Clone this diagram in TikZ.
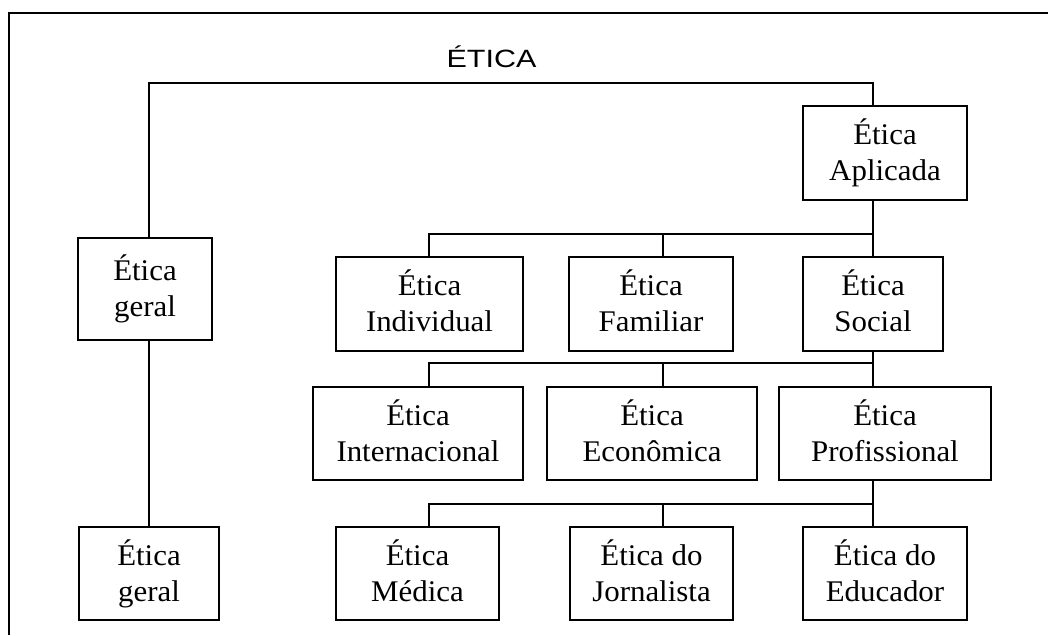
\documentclass[tikz,border=0pt]{standalone}
\usepackage{fontspec}
\setmainfont{Liberation Serif}[FakeStretch=1.03]
\newfontfamily\titlefont{Liberation Sans}[FakeStretch=1.22]
\begin{document}
\begin{tikzpicture}[x=1pt,y=-1pt,
  ebox/.style={draw,line width=1.5pt,inner sep=0pt,align=center,
    font=\fontsize{30}{36}\selectfont,text height=61pt,text depth=6pt},
  conn/.style={line width=1.5pt}]
\useasboundingbox (0,0) rectangle (1048,635);
% frame
\coordinate (fbl) at (9,635);
\coordinate (ftl) at (9,13);
\coordinate (ftr) at (1048,13);
\draw[line width=1.7pt] (fbl) -- (ftl) -- (ftr);
% title
\node[anchor=base,inner sep=0pt,font=\titlefont\fontsize{25}{29}\selectfont] (title) at (491.5,67.5) {ÉTICA};
% boxes
\node[ebox,minimum width=164pt,minimum height=94pt] (apl) at (885,153) {Ética\\Aplicada};
\node[ebox,minimum width=134pt,minimum height=102pt] (ger1) at (145,289) {Ética\\geral};
\node[ebox,minimum width=187pt,minimum height=94pt] (ind) at (429.5,304) {Ética\\Individual};
\node[ebox,minimum width=164pt,minimum height=94pt] (fam) at (651,304) {Ética\\Familiar};
\node[ebox,minimum width=140pt,minimum height=94pt] (soc) at (873,304) {Ética\\Social};
\node[ebox,minimum width=210pt,minimum height=93pt] (int) at (418,433.5) {Ética\\Internacional};
\node[ebox,minimum width=210pt,minimum height=93pt] (eco) at (652,433.5) {Ética\\Econômica};
\node[ebox,minimum width=212pt,minimum height=93pt] (pro) at (885,433.5) {Ética\\Profissional};
\node[ebox,minimum width=140pt,minimum height=93pt] (ger2) at (149,573.5) {Ética\\geral};
\node[ebox,minimum width=163pt,minimum height=93pt] (med) at (417.5,573.5) {Ética\\Médica};
\node[ebox,minimum width=163pt,minimum height=93pt] (jor) at (651.5,573.5) {Ética do\\Jornalista};
\node[ebox,minimum width=164pt,minimum height=93pt] (edu) at (885,573.5) {Ética do\\Educador};
% trunk positions
\coordinate (xa) at (149,0);
\coordinate (xb) at (429,0);
\coordinate (xc) at (663,0);
\coordinate (xd) at (873,0);
\coordinate (bus0) at (0,83);
\coordinate (bus1) at (0,234);
\coordinate (bus2) at (0,363);
\coordinate (bus3) at (0,504);
% connectors
\draw[conn] (ger1.north -| xa) |- (bus0 -| xd) -- (apl.north -| xd);
\draw[conn] (ger1.south -| xa) -- (ger2.north -| xa);
\draw[conn] (apl.south -| xd) -- (soc.north -| xd);
\draw[conn] (ind.north -| xb) |- (bus1 -| xd);
\draw[conn] (fam.north -| xc) -- (bus1 -| xc);
\draw[conn] (soc.south -| xd) -- (pro.north -| xd);
\draw[conn] (int.north -| xb) |- (bus2 -| xd);
\draw[conn] (eco.north -| xc) -- (bus2 -| xc);
\draw[conn] (pro.south -| xd) -- (edu.north -| xd);
\draw[conn] (med.north -| xb) |- (bus3 -| xd);
\draw[conn] (jor.north -| xc) -- (bus3 -| xc);
\end{tikzpicture}
\end{document}
